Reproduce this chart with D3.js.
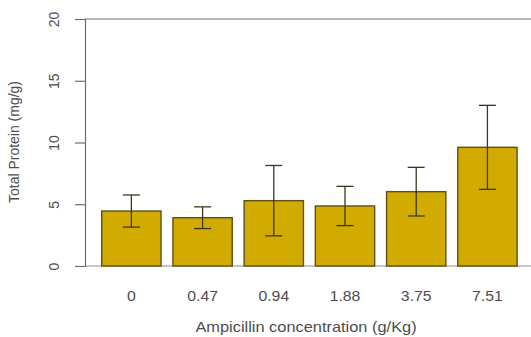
<!DOCTYPE html>
<html>
<head>
<meta charset="utf-8">
<script src="https://cdn.jsdelivr.net/npm/d3@7"></script>
<style>
  html, body { margin: 0; padding: 0; background: #fff; }
  svg { display: block; }
  text { font-family: "Liberation Sans", Arial, sans-serif; fill: #4d4d4d; }
</style>
</head>
<body>
<script>
// Total protein by ampicillin dose: mean with ± SD error bars
const concentrations = ["0", "0.47", "0.94", "1.88", "3.75", "7.51"];
const meanProtein = [4.45, 3.91, 5.29, 4.86, 6.02, 9.61];
const sdProtein = [1.30, 0.88, 2.85, 1.59, 1.97, 3.40];
const yTicks = [0, 5, 10, 15, 20];

const width = 531, height = 337;
const svg = d3.select("body").append("svg")
  .attr("width", width).attr("height", height);

const x = d3.scaleBand()
  .domain(concentrations)
  .range([94.6, 524.2])
  .paddingInner(0.167)
  .paddingOuter(0.1);

const y = d3.scaleLinear().domain([0, 20]).range([266, 19]);

const axisColor = "#6e6e6e";
const wide = 1.13; // horizontal stretch of the lettering

// frame lines across top and baseline
svg.append("line")
  .attr("x1", 85).attr("x2", width)
  .attr("y1", y(20)).attr("y2", y(20))
  .attr("stroke", axisColor).attr("stroke-width", 1.2);
svg.append("line")
  .attr("x1", 85).attr("x2", width)
  .attr("y1", y(0)).attr("y2", y(0))
  .attr("stroke", "#8a8fa8").attr("stroke-width", 1.2);

// y axis
const yAxis = d3.axisLeft(y).tickValues(yTicks).tickSize(10).tickFormat(d3.format("d"));
const gy = svg.append("g").attr("transform", "translate(85,0)").call(yAxis);
gy.select(".domain").attr("stroke", axisColor).attr("stroke-width", 1.2);
gy.selectAll(".tick line").attr("stroke", axisColor).attr("stroke-width", 1.2);
gy.selectAll(".tick text")
  .attr("x", 0).attr("y", 0).attr("dy", null)
  .attr("transform", "translate(-26,0) rotate(-90) scale(1,1.1)")
  .attr("text-anchor", "middle")
  .style("font-size", "14px")
  .style("font-family", "Liberation Sans, Arial, sans-serif")
  .attr("fill", "#4d4d4d");

// bars
svg.append("g").selectAll("rect")
  .data(concentrations)
  .join("rect")
  .attr("x", d => x(d))
  .attr("width", x.bandwidth())
  .attr("y", (d, i) => y(meanProtein[i]))
  .attr("height", (d, i) => y(0) - y(meanProtein[i]))
  .attr("fill", "#d2ab00")
  .attr("stroke", "#5f5010")
  .attr("stroke-width", 1.4);

// error bars
const capHalf = 8.5;
const err = svg.append("g").attr("stroke", "#3c3520").attr("stroke-width", 1.3);
concentrations.forEach((d, i) => {
  const cx = x(d) + x.bandwidth() / 2;
  const hi = y(meanProtein[i] + sdProtein[i]);
  const lo = y(meanProtein[i] - sdProtein[i]);
  err.append("line").attr("x1", cx).attr("x2", cx).attr("y1", hi).attr("y2", lo);
  err.append("line").attr("x1", cx - capHalf).attr("x2", cx + capHalf).attr("y1", hi).attr("y2", hi);
  err.append("line").attr("x1", cx - capHalf).attr("x2", cx + capHalf).attr("y1", lo).attr("y2", lo);
});

// x category labels
svg.append("g").selectAll("text")
  .data(concentrations)
  .join("text")
  .attr("transform", d => `translate(${x(d) + x.bandwidth() / 2},301) scale(${wide},1)`)
  .attr("text-anchor", "middle")
  .style("font-size", "14px")
  .text(d => d);

// axis titles
svg.append("text")
  .attr("transform", `translate(306,332) scale(${wide},1)`)
  .attr("text-anchor", "middle")
  .style("font-size", "14.5px")
  .text("Ampicillin concentration (g/Kg)");

svg.append("text")
  .attr("transform", "translate(19,142) rotate(-90) scale(1,1.1)")
  .attr("text-anchor", "middle")
  .style("font-size", "14px")
  .text("Total Protein (mg/g)");
</script>
</body>
</html>
